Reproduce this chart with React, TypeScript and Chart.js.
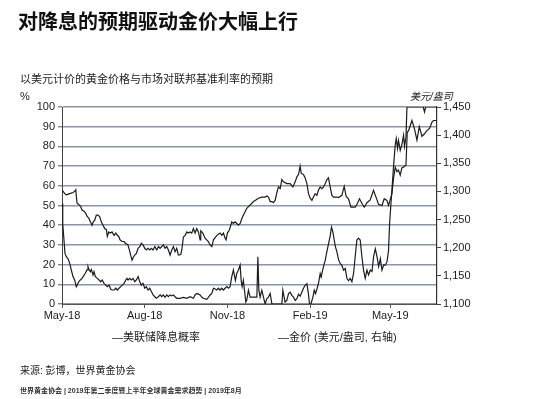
import React, { useEffect, useRef } from "react";
import { Chart, registerables } from "chart.js";

Chart.register(...registerables);

// x values: days since 1 May 2018
const tickDays = [0, 92, 184, 276, 365];
const tickLabels = ["May-18", "Aug-18", "Nov-18", "Feb-19", "May-19"];

// Fed rate-cut probability (%), left axis
const probDays = [
  0, 0.8, 2.2, 3.3, 4.8, 6.7, 8.6, 10.3, 12.2, 14.1, 15.9, 18.6, 20.4, 22.3, 25.9, 27.8, 28.9, 30.0, 31.5, 32.6,
  34.5, 35.6, 37.1, 39.3, 41.2, 43.1, 44.8, 46.7, 48.6, 50.4, 52.3, 54.2, 56.0, 57.9, 59.8, 61.5, 63.4, 65.3, 67.1, 69.0,
  70.9, 72.3, 73.4, 75.3, 77.1, 79.0, 80.9, 82.7, 84.6, 86.5, 88.2, 90.1, 92.0, 93.8, 95.7, 97.6, 99.4, 101.3, 103.2, 104.9,
  107.2, 109.1, 110.9, 112.7, 114.6, 116.5, 118.3, 120.2, 122.1, 123.9, 125.7, 127.6, 131.3, 135.0, 138.8, 142.4, 146.1, 148.0, 149.9, 151.7,
  153.6, 155.5, 157.2, 161.0, 162.8, 164.7, 166.6, 168.4, 170.3, 172.2, 173.9, 175.8, 177.7, 179.5, 181.4, 183.3, 185.1, 186.9, 188.8, 190.6,
  191.7, 192.8, 194.4, 196.2, 198.1, 199.2, 200.3, 201.7, 202.9, 204.4, 205.5, 207.3, 209.2, 216.7, 217.8, 218.9, 220.3, 222.2, 224.0, 225.9,
  227.8, 229.6, 231.5, 233.4, 244.5, 245.6, 247.0, 248.1, 250.0, 251.9, 253.7, 255.6, 257.4, 259.3, 261.2, 263.0, 264.8, 266.7, 268.5, 270.4,
  272.3, 274.1, 275.2, 276.8, 279.0, 280.5, 281.9, 283.4, 285.2, 287.1, 288.2, 289.7, 291.6, 292.7, 293.8, 295.2, 296.8, 298.2, 299.7, 301.2,
  302.7, 304.1, 305.7, 307.5, 309.4, 311.2, 313.1, 315.0, 316.8, 318.6, 320.5, 322.4, 324.2, 326.0, 327.9, 329.7, 331.6, 333.5, 335.3, 337.2,
  339.1, 340.9, 342.8, 344.7, 346.5, 348.4, 350.3, 352.1, 354.0, 355.8, 357.6, 359.5, 361.4, 363.1, 364.3, 365.8, 366.9, 368.7, 370.6, 371.7,
  373.1, 374.2, 376.1, 378.0, 379.8, 380.9, 382.5, 383.6, 401.7, 403.1, 404.4, 416.5,
];
const probPct = [
  51, 41, 32.5, 25.7, 24, 23, 20.6, 17.3, 13.9, 12.2, 8.8, 11.3, 12.2, 13, 15.6, 17.3, 19, 17.5, 16.4, 17.5,
  14.7, 16.4, 13.9, 13, 12.2, 11.3, 12.2, 10.5, 9.6, 8.8, 9.6, 7.5, 7.1, 7.1, 8, 7.1, 8, 8.8, 9.6, 10.5,
  12.2, 13, 12.2, 13, 12.2, 13, 11.3, 12.2, 13.9, 11.3, 9.6, 10.5, 8, 8.8, 7.1, 8, 6.3, 4.6, 3.7, 2.9,
  3.7, 4.6, 3.7, 4.6, 3.4, 4.6, 3.7, 4.6, 4.1, 4.6, 3.7, 2.9, 2.9, 3.4, 2.9, 3.7, 2.9, 4.6, 5.4, 5,
  4.6, 3.4, 2.9, 2.4, 3.4, 4.6, 5.4, 8, 7.6, 7.1, 8, 7.1, 8, 7.1, 8, 8.8, 8, 8.8, 13.9, 17.3,
  14.5, 12, 15.6, 17.3, 19.8, 12, 8.8, 12, 7, 1, 2, 7, 3.5, 3.5, 24, 7, 3.5, 7, 3.5, 0,
  2.7, 3.5, 5.3, 0, 0, 7, 3.5, 1, 1.8, 5.3, 6, 4.4, 3.5, 1.8, 2.7, 5, 4, 6, 8, 9.5,
  10.3, 5, 0, 0, 3.5, 7, 5.3, 7.5, 10.5, 15.4, 13.7, 17, 20.5, 22, 25, 28, 31.5, 34.5, 39, 36.6,
  32.5, 29, 26.5, 22.5, 20.5, 19.7, 17.2, 18, 13, 11.8, 13, 11.3, 15.5, 24, 32.5, 33.4, 32.5, 24, 17.2, 13,
  17.2, 14.8, 17.2, 16.5, 24, 28, 24, 19, 23, 17.2, 19.7, 19.7, 21.5, 27, 41, 51, 58, 70, 81, 84,
  79, 83, 78, 81, 85.6, 80, 84.7, 100, 100, 97.5, 100, 100,
];

// Gold price (US$/oz), right axis
const goldDays = [
  0, 3.0, 4.8, 8.6, 12.2, 14.1, 15.3, 16.7, 18.6, 20.8, 22.3, 24.5, 26.4, 28.2, 30.0, 31.5, 33.4, 34.8, 36.4, 38.2,
  40.1, 42.0, 43.7, 45.6, 47.5, 49.3, 50.4, 52.0, 53.7, 55.6, 57.9, 59.8, 61.5, 63.1, 64.5, 66.8, 69.0, 70.4, 73.4, 74.9,
  76.4, 77.9, 79.3, 80.9, 82.7, 84.6, 86.5, 88.2, 90.1, 92.0, 93.8, 95.7, 97.6, 99.4, 101.3, 103.2, 105.4, 107.2, 109.1, 110.9,
  112.7, 114.6, 116.5, 118.3, 120.2, 122.1, 123.9, 125.7, 127.6, 129.4, 132.1, 133.2, 135.0, 136.9, 138.8, 140.5, 142.4, 144.3, 146.1, 148.0,
  149.9, 151.7, 153.6, 154.3, 156.6, 159.1, 162.8, 164.7, 166.6, 168.4, 172.2, 175.8, 177.7, 179.5, 181.4, 182.5, 183.9, 186.2, 188.8, 190.6,
  192.5, 194.4, 196.2, 198.1, 200.0, 201.7, 203.6, 205.5, 207.3, 211.1, 212.9, 214.8, 218.4, 222.2, 225.9, 227.8, 229.6, 231.5, 233.4, 235.1,
  237.0, 238.9, 240.7, 242.6, 244.5, 246.3, 250.0, 253.7, 256.7, 259.3, 261.2, 263.0, 264.8, 266.0, 268.5, 270.4, 272.3, 274.1, 276.0, 277.9,
  279.6, 281.5, 283.4, 285.2, 287.1, 289.0, 290.8, 292.7, 294.6, 296.3, 298.2, 300.1, 301.9, 305.7, 307.5, 311.2, 313.8, 316.0, 318.6, 321.3,
  326.0, 328.6, 330.8, 333.5, 336.1, 339.1, 342.7, 346.4, 349.4, 352.0, 355.8, 358.3, 361.3, 363.1, 366.9, 368.7, 370.6, 372.5, 374.2, 376.1,
  378.0, 379.8, 382.5, 383.9, 385.4, 389.1, 391.7, 394.7, 397.3, 400.3, 402.8, 405.8, 408.7, 411.4, 413.2, 415.9,
];
const goldPrice = [
  1303, 1296, 1294, 1296, 1298, 1300, 1303, 1279, 1277, 1273, 1267, 1265, 1261, 1255, 1252, 1246, 1240, 1246, 1249, 1258,
  1258, 1255, 1246, 1240, 1234, 1232, 1220, 1228, 1226, 1228, 1222, 1226, 1222, 1220, 1214, 1211, 1211, 1208, 1205, 1196,
  1187, 1178, 1183, 1187, 1190, 1199, 1202, 1208, 1205, 1199, 1196, 1199, 1196, 1199, 1196, 1202, 1196, 1202, 1199, 1202,
  1205, 1199, 1202, 1196, 1187, 1196, 1202, 1193, 1199, 1187, 1188, 1196, 1219, 1222, 1228, 1226, 1228, 1226, 1234, 1226,
  1234, 1228, 1214, 1230, 1226, 1217, 1211, 1205, 1202, 1214, 1222, 1226, 1222, 1226, 1217, 1214, 1226, 1232, 1246, 1243,
  1246, 1243, 1240, 1243, 1252, 1258, 1264, 1270, 1273, 1279, 1282, 1284, 1288, 1290, 1290, 1292, 1290, 1282, 1282, 1280,
  1284, 1298, 1308, 1305, 1321, 1317, 1314, 1314, 1308, 1317, 1326, 1330, 1345, 1332, 1330, 1324, 1314, 1296, 1288, 1284,
  1290, 1296, 1293, 1302, 1308, 1305, 1308, 1314, 1321, 1324, 1308, 1293, 1290, 1290, 1289, 1293, 1309, 1291, 1287, 1272,
  1272, 1279, 1287, 1279, 1272, 1280, 1285, 1302, 1289, 1277, 1275, 1287, 1284, 1275, 1296, 1324, 1343, 1335, 1338, 1329,
  1342, 1343, 1347, 1405, 1408, 1426, 1413, 1391, 1415, 1398, 1402, 1408, 1412, 1423, 1426, 1426,
];

const FONT = '"Liberation Sans", "Noto Sans CJK SC", Arial, sans-serif';
const INK = "#1c1c1c";
const GRID = "#8c95a5";

function ChartCanvas() {
  const ref = useRef<HTMLCanvasElement | null>(null);
  useEffect(() => {
    if (!ref.current) return;
    const chart = new Chart(ref.current, {
      type: "line",
      data: {
        datasets: [
          {
            label: "美联储降息概率",
            data: probDays.map((d, i) => ({ x: d, y: probPct[i] })),
            yAxisID: "y",
            borderColor: INK,
            borderWidth: 1.2,
            pointRadius: 0,
            tension: 0,
          },
          {
            label: "金价 (美元/盎司, 右轴)",
            data: goldDays.map((d, i) => ({ x: d, y: goldPrice[i] })),
            yAxisID: "y1",
            borderColor: INK,
            borderWidth: 1.2,
            pointRadius: 0,
            tension: 0,
          },
        ],
      },
      options: {
        responsive: false,
        animation: false,
        layout: { padding: { top: 107, bottom: 65, left: 0, right: 0 } },
        plugins: { legend: { display: false }, tooltip: { enabled: false } },
        scales: {
          x: {
            type: "linear",
            min: 0,
            max: 417,
            afterBuildTicks: (scale: any) => {
              scale.ticks = tickDays.map((v) => ({ value: v }));
            },
            afterFit: (scale: any) => {
              scale.height = 30;
            },
            ticks: {
              autoSkip: false,
              maxRotation: 0,
              color: INK,
              font: { family: FONT, size: 11 },
              padding: 1,
              callback: (v: any) => {
                const i = tickDays.indexOf(Number(v));
                return i >= 0 ? tickLabels[i] : "";
              },
            },
            grid: { drawOnChartArea: false, drawTicks: true, tickLength: 4, color: "#555" },
            border: { color: "#555", width: 1 },
          },
          y: {
            position: "left",
            min: 0,
            max: 100,
            afterFit: (scale: any) => {
              scale.width = 62;
            },
            ticks: {
              stepSize: 10,
              color: INK,
              font: { family: FONT, size: 11 },
              padding: 3,
            },
            grid: { color: GRID, lineWidth: 1.6, tickLength: 4, tickColor: "#555", tickWidth: 1 },
            border: { color: "#444", width: 1 },
          },
          y1: {
            position: "right",
            min: 1100,
            max: 1450,
            afterFit: (scale: any) => {
              scale.width = 113;
            },
            ticks: {
              stepSize: 50,
              color: INK,
              font: { family: FONT, size: 11 },
              padding: 2,
              callback: (v: any) => Number(v).toLocaleString("en-US"),
            },
            grid: { drawOnChartArea: false, tickLength: 4, color: "#444" },
            border: { color: "#333", width: 1.2 },
          },
        },
      },
    });
    return () => chart.destroy();
  }, []);
  return (
    <canvas
      ref={ref}
      width={550}
      height={399}
      style={{ position: "absolute", left: 0, top: 0, width: 550, height: 399 }}
    />
  );
}

function Txt(props: { x: number; cy: number; size: number; children: React.ReactNode; bold?: boolean; italic?: boolean; color?: string }) {
  const { x, cy, size, bold, italic, color } = props;
  return (
    <div
      style={{
        position: "absolute",
        left: x,
        top: cy - size * 0.6,
        fontSize: size,
        lineHeight: `${size * 1.2}px`,
        fontFamily: FONT,
        fontWeight: bold ? 700 : 400,
        fontStyle: italic ? "italic" : "normal",
        color: color || INK,
        whiteSpace: "nowrap",
      }}
    >
      {props.children}
    </div>
  );
}

export default function App() {
  return (
    <div style={{ position: "absolute", left: 0, top: 0, width: 550, height: 399, background: "#ffffff", overflow: "hidden" }}>
      <ChartCanvas />
      <Txt x={18} cy={21.5} size={20} bold color="#111">对降息的预期驱动金价大幅上行</Txt>
      <Txt x={20} cy={80} size={11}>以美元计价的黄金价格与市场对联邦基准利率的预期</Txt>
      <Txt x={20} cy={97} size={11}>%</Txt>
      <Txt x={410} cy={97} size={10} italic>美元/盎司</Txt>
      <Txt x={112} cy={338} size={11}>—美联储降息概率</Txt>
      <Txt x={278} cy={338} size={11}>—金价 (美元/盎司, 右轴)</Txt>
      <Txt x={20} cy={371} size={10}>来源: 彭博，世界黄金协会</Txt>
      <Txt x={20} cy={391} size={7} bold color="#333">世界黄金协会 | 2019年第二季度暨上半年全球黄金需求趋势 | 2019年8月</Txt>
    </div>
  );
}
